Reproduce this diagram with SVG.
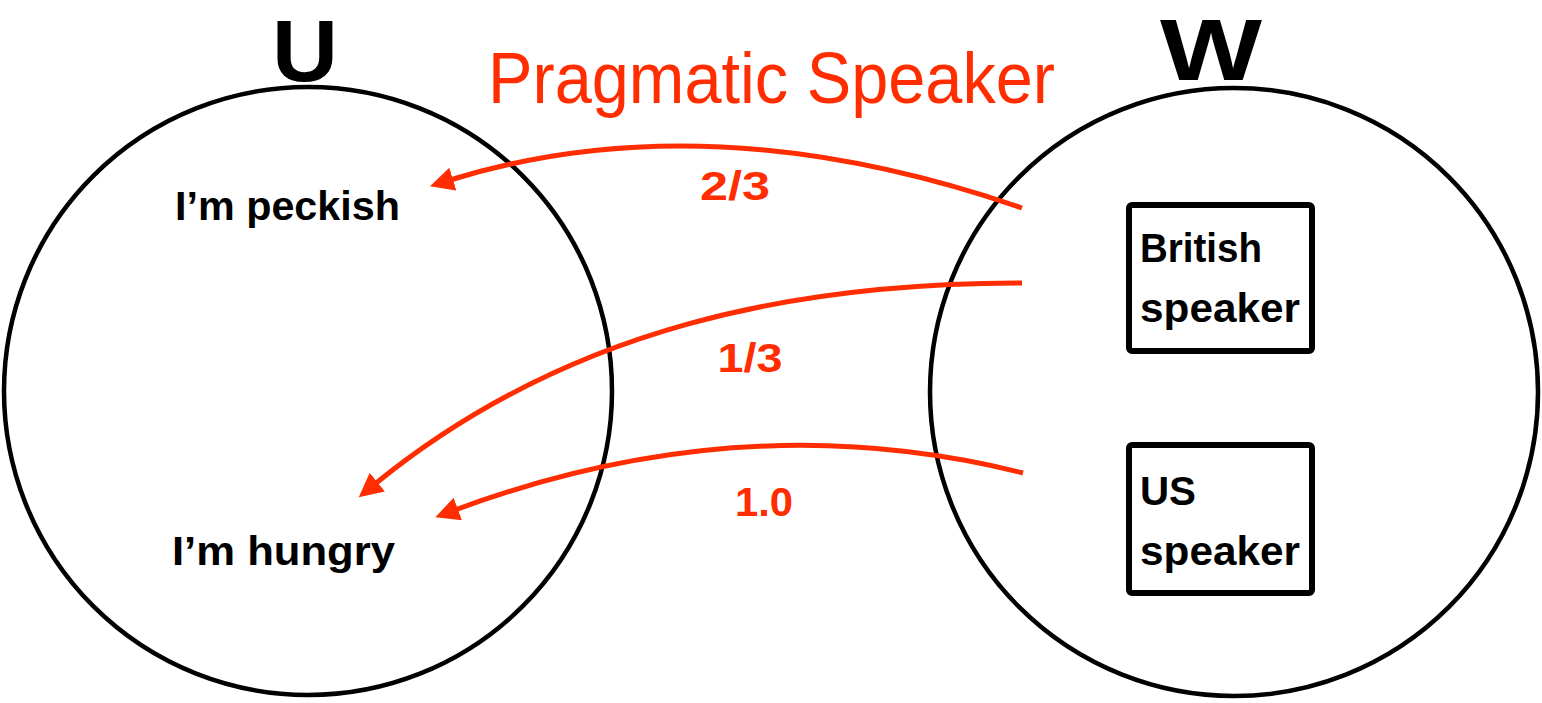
<svg xmlns="http://www.w3.org/2000/svg" width="1542" height="703" viewBox="0 0 1542 703">
<style>
.circ{fill:none;stroke:#000;stroke-width:4.5}
.box{fill:#fff;stroke:#000;stroke-width:6}
.lbl{font-family:"Liberation Sans",Arial,sans-serif;font-weight:bold;font-size:40px;fill:#000}
.big{font-family:"Liberation Sans",Arial,sans-serif;font-weight:bold;fill:#000}
.num{font-family:"Liberation Sans",Arial,sans-serif;font-weight:bold;font-size:40px;fill:#FF2D00;text-anchor:middle}
.title{font-family:"Liberation Sans",Arial,sans-serif;font-size:72px;fill:#FF2D00}
.arr{fill:none;stroke:#FF2D00;stroke-width:5;marker-end:url(#ah)}
</style>
<defs>
<marker id="ah" markerUnits="userSpaceOnUse" markerWidth="26" markerHeight="26" refX="3" refY="12" orient="auto">
<path d="M0,0 L24,12 L0,24 z" fill="#FF2D00"/>
</marker>
</defs>
<rect width="1542" height="703" fill="#fff"/>
<g id="U">
<circle class="circ" cx="308" cy="391" r="304"/>
<text class="big" x="305" y="81" font-size="88" text-anchor="middle" textLength="66" lengthAdjust="spacingAndGlyphs">U</text>
<text class="lbl" x="175" y="220" textLength="225" lengthAdjust="spacingAndGlyphs">I’m peckish</text>
<text class="lbl" x="172" y="565" textLength="223" lengthAdjust="spacingAndGlyphs">I’m hungry</text>
</g>
<g id="W">
<circle class="circ" cx="1234" cy="392" r="304"/>
<text class="big" x="1211" y="80" font-size="87" text-anchor="middle" textLength="102" lengthAdjust="spacingAndGlyphs">W</text>
</g>
<g id="british">
<rect class="box" x="1129" y="205" width="183" height="146" rx="3"/>
<text class="lbl" x="1140" y="262" font-size="38" textLength="122" lengthAdjust="spacingAndGlyphs">British</text>
<text class="lbl" x="1140" y="322" font-size="38" textLength="160" lengthAdjust="spacingAndGlyphs">speaker</text>
</g>
<g id="us">
<rect class="box" x="1129" y="445" width="183" height="148" rx="3"/>
<text class="lbl" x="1140" y="505" font-size="38" textLength="56" lengthAdjust="spacingAndGlyphs">US</text>
<text class="lbl" x="1140" y="565" font-size="38" textLength="160" lengthAdjust="spacingAndGlyphs">speaker</text>
</g>
<g id="title">
<text class="title" x="488" y="103" textLength="567" lengthAdjust="spacingAndGlyphs">Pragmatic Speaker</text>
</g>
<g id="connectors">
<path class="arr" d="M1022,208 Q709,100 450,180"/>
<path class="arr" d="M1022,283 C800,283 570,325 375,484"/>
<path class="arr" d="M1023,473 Q744,403 455,510"/>
<text class="num" x="735" y="200" textLength="70" lengthAdjust="spacingAndGlyphs">2/3</text>
<text class="num" x="750" y="372" textLength="65" lengthAdjust="spacingAndGlyphs">1/3</text>
<text class="num" x="764" y="516" textLength="58" lengthAdjust="spacingAndGlyphs">1.0</text>
</g>
</svg>
